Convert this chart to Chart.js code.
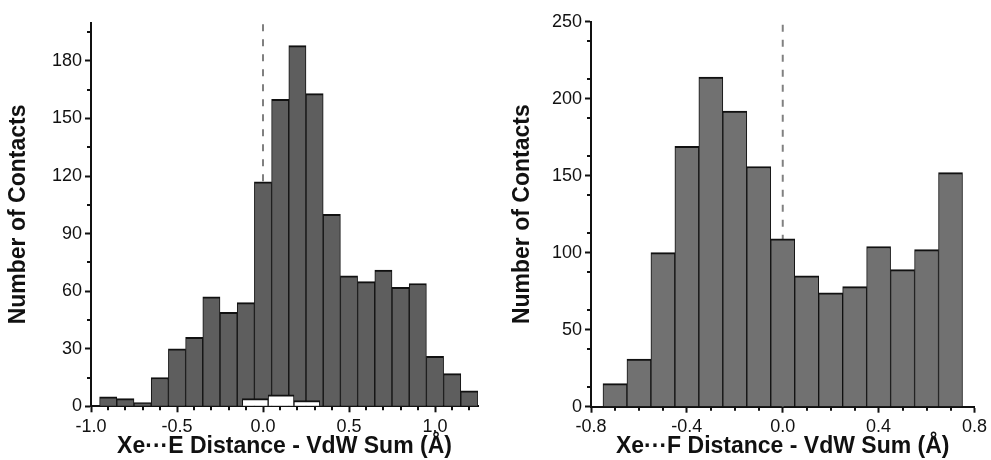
<!DOCTYPE html>
<html>
<head>
<meta charset="utf-8">
<script src="https://cdn.jsdelivr.net/npm/chart.js@4.4.1/dist/chart.umd.min.js"></script>
<style>
  html, body { margin: 0; padding: 0; background: #fff; }
  #wrap { position: relative; width: 991px; height: 460px; }
  canvas { position: absolute; top: 0; }
</style>
</head>
<body>
<div id="wrap">
  <canvas id="left" width="500" height="460" style="left:0"></canvas>
  <canvas id="right" width="491" height="460" style="left:500px"></canvas>
</div>
<script>
// Xe...E histogram (bin centres, 0.1 wide)
var eBins = [-0.9, -0.8, -0.7, -0.6, -0.5, -0.4, -0.3, -0.2, -0.1, 0.0, 0.1,
             0.2, 0.3, 0.4, 0.5, 0.6, 0.7, 0.8, 0.9, 1.0, 1.1, 1.2];
var eCounts = [5, 4, 2, 15, 30, 36, 57, 49, 54, 117, 160,
               188, 163, 100, 68, 65, 71, 62, 64, 26, 17, 8];
// small white subset (0.15 wide bins)
var eSubBins = [-0.045, 0.105, 0.255];
var eSubCounts = [4, 6, 3];
var eXTicks = [-1.0, -0.5, 0.0, 0.5, 1.0];
var eXMinor = [-0.9, -0.8, -0.7, -0.6, -0.4, -0.3, -0.2, -0.1, 0.1, 0.2, 0.3, 0.4, 0.6, 0.7, 0.8, 0.9, 1.1, 1.2];
var eYTicks = [0, 30, 60, 90, 120, 150, 180];
var eYMinor = [15, 45, 75, 105, 135, 165, 195];

// Xe...F histogram
var fBins = [-0.7, -0.6, -0.5, -0.4, -0.3, -0.2, -0.1, 0.0, 0.1, 0.2, 0.3, 0.4, 0.5, 0.6, 0.7];
var fCounts = [15, 31, 100, 169, 214, 192, 156, 109, 85, 74, 78, 104, 89, 102, 152];
var fXTicks = [-0.8, -0.4, 0.0, 0.4, 0.8];
var fXMinor = [-0.7, -0.6, -0.5, -0.3, -0.2, -0.1, 0.1, 0.2, 0.3, 0.5, 0.6, 0.7];
var fYTicks = [0, 50, 100, 150, 200, 250];
var fYMinor = [12.5, 37.5, 62.5, 87.5, 112.5, 137.5, 162.5, 187.5, 212.5, 237.5];

var FONT = 'Helvetica, Arial, "Liberation Sans", sans-serif';
var INK = '#111';

// short minor ticks, drawn from the scales
const minorTicks = {
  id: 'minorTicks',
  afterDraw(chart, args, opts) {
    const ctx = chart.ctx;
    const xs = chart.scales.x, ys = chart.scales.y;
    ctx.save();
    ctx.strokeStyle = INK;
    ctx.lineWidth = 2;
    ctx.beginPath();
    opts.x.forEach(function (v) {
      const p = Math.round(xs.getPixelForValue(v));
      ctx.moveTo(p, xs.top);
      ctx.lineTo(p, xs.top + 4);
    });
    opts.y.forEach(function (v) {
      const p = Math.round(ys.getPixelForValue(v));
      ctx.moveTo(ys.right, p);
      ctx.lineTo(ys.right - 4, p);
    });
    ctx.stroke();
    ctx.restore();
  }
};

function pts(xs, ys) {
  return xs.map(function (x, i) { return { x: x, y: ys[i] }; });
}

function makeChart(id, cfg) {
  var axisCommon = {
    border: { display: true, color: INK, width: 2 },
    grid: { display: true, drawOnChartArea: false, drawTicks: true, tickLength: 6, tickWidth: 2, tickColor: INK },
  };
  var datasets = [];
  if (cfg.sub) {
    datasets.push({
      type: 'bar', data: pts(cfg.sub.bins, cfg.sub.counts), xAxisID: 'x2', order: 0, grouped: false,
      backgroundColor: '#fff', borderColor: INK,
      borderWidth: { top: 2, left: 1, right: 1, bottom: 0 },
      barPercentage: 1, categoryPercentage: 1
    });
  }
  datasets.push({
    type: 'bar', data: pts(cfg.bins, cfg.counts), xAxisID: 'x', order: 1, grouped: false,
    backgroundColor: cfg.fill, borderColor: INK,
    borderWidth: { top: 2, left: 1, right: 1, bottom: 0 },
    barPercentage: 1, categoryPercentage: 1
  });
  datasets.push({
    type: 'line', data: [{ x: 0, y: 0 }, { x: 0, y: cfg.yMax }], xAxisID: 'x', order: 2,
    borderColor: '#808080', borderWidth: 2, borderDash: [7, 8], pointRadius: 0, fill: false
  });

  var scales = {
    x: Object.assign({}, axisCommon, {
      type: 'linear', min: cfg.xMin, max: cfg.xMax, offset: false,
      grid: Object.assign({}, axisCommon.grid, { offset: false }),
      afterBuildTicks: function (s) { s.ticks = cfg.xTicks.map(function (v) { return { value: v }; }); },
      afterFit: function (s) { s.height = 460 - cfg.bottom; },
      ticks: {
        color: INK, padding: 4, maxRotation: 0, autoSkip: false,
        font: { family: FONT, size: 18 },
        callback: function (v) { return Number(v).toFixed(1); }
      },
      title: {
        display: true, text: cfg.xTitle, color: INK,
        font: { family: FONT, size: 23, weight: 'bold', lineHeight: 1 },
        padding: { top: 0, bottom: 1.5 }
      }
    }),
    y: Object.assign({}, axisCommon, {
      type: 'linear', min: 0, max: cfg.yMax,
      afterBuildTicks: function (s) { s.ticks = cfg.yTicks.map(function (v) { return { value: v }; }); },
      afterFit: function (s) { s.width = cfg.left; },
      ticks: {
        color: INK, padding: 3, autoSkip: false,
        font: { family: FONT, size: 18 }
      },
      title: {
        display: true, text: 'Number of Contacts', color: INK,
        font: { family: FONT, size: 23, weight: 'bold', lineHeight: 1.2 },
        padding: { top: cfg.yTitlePad, bottom: 0 }
      }
    })
  };
  if (cfg.sub) {
    scales.x2 = {
      type: 'linear', display: false, min: cfg.xMin, max: cfg.xMax, offset: false,
      afterBuildTicks: function (s) { s.ticks = cfg.xTicks.map(function (v) { return { value: v }; }); }
    };
  }

  return new Chart(document.getElementById(id), {
    type: 'bar',
    data: { datasets: datasets },
    options: {
      responsive: false,
      animation: false,
      devicePixelRatio: 1,
      layout: { padding: { left: 0, right: cfg.padRight, top: cfg.top, bottom: 0 } },
      plugins: {
        legend: { display: false },
        tooltip: { enabled: false },
        minorTicks: { x: cfg.xMinor, y: cfg.yMinor }
      },
      scales: scales
    },
    plugins: [minorTicks]
  });
}

makeChart('left', {
  bins: eBins, counts: eCounts, sub: { bins: eSubBins, counts: eSubCounts },
  fill: '#5e5e5e', xMin: -1.0, xMax: 1.25, yMax: 200,
  xTicks: eXTicks, xMinor: eXMinor, yTicks: eYTicks, yMinor: eYMinor,
  xTitle: 'Xe\u00b7\u00b7\u00b7E Distance - VdW Sum (\u00c5)',
  left: 91, padRight: 22, top: 22.6, bottom: 406.3, yTitlePad: 5
});

makeChart('right', {
  bins: fBins, counts: fCounts,
  fill: '#717171', xMin: -0.8, xMax: 0.8, yMax: 250,
  xTicks: fXTicks, xMinor: fXMinor, yTicks: fYTicks, yMinor: fYMinor,
  xTitle: 'Xe\u00b7\u00b7\u00b7F Distance - VdW Sum (\u00c5)',
  left: 91, padRight: 13, top: 21.7, bottom: 406.7, yTitlePad: 9
});
</script>
</body>
</html>
